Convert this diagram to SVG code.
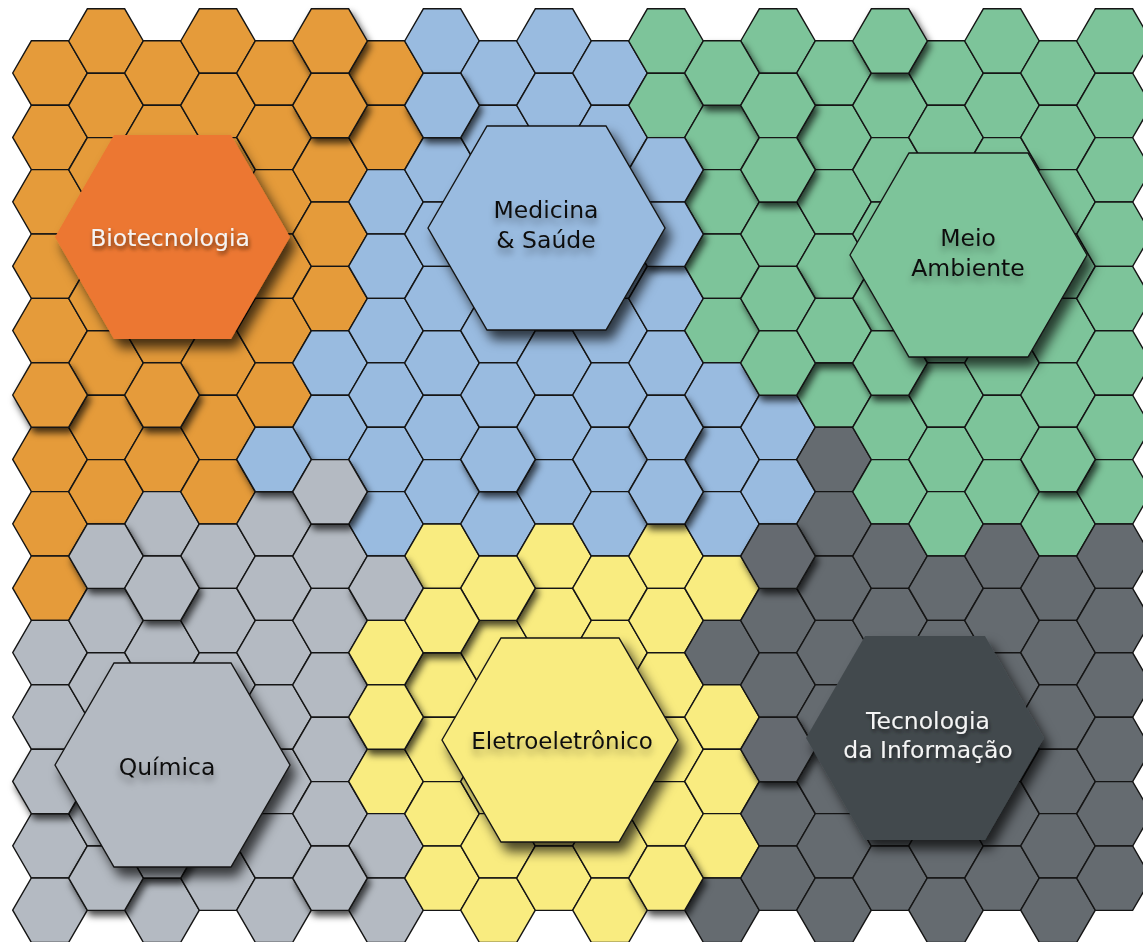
<svg xmlns="http://www.w3.org/2000/svg" xmlns:xlink="http://www.w3.org/1999/xlink" width="1143" height="942" viewBox="0 0 1143 942">
<style>
.o{fill:#E59B3A}.b{fill:#99BBE0}.g{fill:#7DC49A}.q{fill:#B4BAC2}.y{fill:#F9EC80}.d{fill:#656B70}
#h{stroke:#151515;stroke-width:1.4;stroke-linejoin:miter}
.big{stroke:#151515;stroke-width:1.4}
.lbl{font-family:"DejaVu Sans","Open Sans",sans-serif;font-size:23.5px;text-anchor:middle;fill:#111}
.wl{fill:#f4f4f4}
</style>
<defs>
<polygon id="h" points="-37.3,0 -18.65,-32.2 18.65,-32.2 37.3,0 18.65,32.2 -18.65,32.2"/>
<filter id="sh" x="-30%" y="-30%" width="170%" height="170%">
<feDropShadow dx="3" dy="5" stdDeviation="3.5" flood-color="#000" flood-opacity="0.7"/>
</filter>
<filter id="bsh" x="-20%" y="-20%" width="150%" height="150%">
<feDropShadow dx="6" dy="9" stdDeviation="6" flood-color="#000" flood-opacity="0.7"/>
</filter>
<filter id="tsh" x="-20%" y="-60%" width="140%" height="280%">
<feDropShadow dx="0" dy="6" stdDeviation="3.5" flood-color="#000" flood-opacity="0.35"/>
</filter>
<filter id="wsh" x="-20%" y="-60%" width="140%" height="280%">
<feDropShadow dx="1" dy="3" stdDeviation="2" flood-color="#000" flood-opacity="0.6"/>
</filter>
</defs>
<rect width="1143" height="942" fill="#ffffff"/>
<g id="grid">
<!-- col 0 -->
<use href="#h" x="50" y="73" class="o"/><use href="#h" x="50" y="137.4" class="o"/><use href="#h" x="50" y="201.8" class="o"/><use href="#h" x="50" y="266.2" class="o"/><use href="#h" x="50" y="330.6" class="o"/><use href="#h" x="50" y="459.4" class="o"/><use href="#h" x="50" y="523.8" class="o"/><use href="#h" x="50" y="588.2" class="o"/><use href="#h" x="50" y="652.6" class="q"/><use href="#h" x="50" y="717" class="q"/><use href="#h" x="50" y="845.8" class="q"/><use href="#h" x="50" y="910.2" class="q"/>
<!-- col 1 -->
<use href="#h" x="106" y="41" class="o"/><use href="#h" x="106" y="105.4" class="o"/><use href="#h" x="106" y="169.8" class="o"/><use href="#h" x="106" y="234.2" class="o"/><use href="#h" x="106" y="298.6" class="o"/><use href="#h" x="106" y="363" class="o"/><use href="#h" x="106" y="427.4" class="o"/><use href="#h" x="106" y="491.8" class="o"/><use href="#h" x="106" y="620.6" class="q"/><use href="#h" x="106" y="685" class="q"/><use href="#h" x="106" y="749.4" class="q"/><use href="#h" x="106" y="813.8" class="q"/>
<!-- col 2 -->
<use href="#h" x="162" y="73" class="o"/><use href="#h" x="162" y="137.4" class="o"/><use href="#h" x="162" y="201.8" class="o"/><use href="#h" x="162" y="266.2" class="o"/><use href="#h" x="162" y="330.6" class="o"/><use href="#h" x="162" y="459.4" class="o"/><use href="#h" x="162" y="523.8" class="q"/><use href="#h" x="162" y="652.6" class="q"/><use href="#h" x="162" y="717" class="q"/><use href="#h" x="162" y="781.4" class="q"/><use href="#h" x="162" y="910.2" class="q"/>
<!-- col 3 -->
<use href="#h" x="218" y="41" class="o"/><use href="#h" x="218" y="105.4" class="o"/><use href="#h" x="218" y="169.8" class="o"/><use href="#h" x="218" y="234.2" class="o"/><use href="#h" x="218" y="298.6" class="o"/><use href="#h" x="218" y="363" class="o"/><use href="#h" x="218" y="427.4" class="o"/><use href="#h" x="218" y="491.8" class="o"/><use href="#h" x="218" y="556.2" class="q"/><use href="#h" x="218" y="620.6" class="q"/><use href="#h" x="218" y="685" class="q"/><use href="#h" x="218" y="749.4" class="q"/><use href="#h" x="218" y="813.8" class="q"/><use href="#h" x="218" y="878.2" class="q"/>
<!-- col 4 -->
<use href="#h" x="274" y="73" class="o"/><use href="#h" x="274" y="137.4" class="o"/><use href="#h" x="274" y="201.8" class="o"/><use href="#h" x="274" y="266.2" class="o"/><use href="#h" x="274" y="330.6" class="o"/><use href="#h" x="274" y="395" class="o"/><use href="#h" x="274" y="523.8" class="q"/><use href="#h" x="274" y="588.2" class="q"/><use href="#h" x="274" y="652.6" class="q"/><use href="#h" x="274" y="717" class="q"/><use href="#h" x="274" y="781.4" class="q"/><use href="#h" x="274" y="845.8" class="q"/><use href="#h" x="274" y="910.2" class="q"/>
<!-- col 5 -->
<use href="#h" x="330" y="169.8" class="o"/><use href="#h" x="330" y="234.2" class="o"/><use href="#h" x="330" y="298.6" class="o"/><use href="#h" x="330" y="363" class="b"/><use href="#h" x="330" y="427.4" class="b"/><use href="#h" x="330" y="556.2" class="q"/><use href="#h" x="330" y="620.6" class="q"/><use href="#h" x="330" y="685" class="q"/><use href="#h" x="330" y="749.4" class="q"/><use href="#h" x="330" y="813.8" class="q"/>
<!-- col 6 -->
<use href="#h" x="386" y="73" class="o"/><use href="#h" x="386" y="137.4" class="o"/><use href="#h" x="386" y="201.8" class="b"/><use href="#h" x="386" y="266.2" class="b"/><use href="#h" x="386" y="330.6" class="b"/><use href="#h" x="386" y="395" class="b"/><use href="#h" x="386" y="459.4" class="b"/><use href="#h" x="386" y="523.8" class="b"/><use href="#h" x="386" y="781.4" class="y"/><use href="#h" x="386" y="845.8" class="q"/><use href="#h" x="386" y="910.2" class="q"/>
<!-- col 7 -->
<use href="#h" x="442" y="41" class="b"/><use href="#h" x="442" y="169.8" class="b"/><use href="#h" x="442" y="234.2" class="b"/><use href="#h" x="442" y="298.6" class="b"/><use href="#h" x="442" y="363" class="b"/><use href="#h" x="442" y="427.4" class="b"/><use href="#h" x="442" y="491.8" class="b"/><use href="#h" x="442" y="556.2" class="y"/><use href="#h" x="442" y="685" class="y"/><use href="#h" x="442" y="749.4" class="y"/><use href="#h" x="442" y="813.8" class="y"/><use href="#h" x="442" y="878.2" class="y"/>
<!-- col 8 -->
<use href="#h" x="498" y="73" class="b"/><use href="#h" x="498" y="137.4" class="b"/><use href="#h" x="498" y="201.8" class="b"/><use href="#h" x="498" y="266.2" class="b"/><use href="#h" x="498" y="330.6" class="b"/><use href="#h" x="498" y="395" class="b"/><use href="#h" x="498" y="523.8" class="b"/><use href="#h" x="498" y="652.6" class="y"/><use href="#h" x="498" y="717" class="y"/><use href="#h" x="498" y="781.4" class="y"/><use href="#h" x="498" y="845.8" class="y"/><use href="#h" x="498" y="910.2" class="y"/>
<!-- col 9 -->
<use href="#h" x="554" y="41" class="b"/><use href="#h" x="554" y="105.4" class="b"/><use href="#h" x="554" y="169.8" class="b"/><use href="#h" x="554" y="234.2" class="b"/><use href="#h" x="554" y="298.6" class="b"/><use href="#h" x="554" y="363" class="b"/><use href="#h" x="554" y="427.4" class="b"/><use href="#h" x="554" y="491.8" class="b"/><use href="#h" x="554" y="556.2" class="y"/><use href="#h" x="554" y="620.6" class="y"/><use href="#h" x="554" y="685" class="y"/><use href="#h" x="554" y="749.4" class="y"/><use href="#h" x="554" y="813.8" class="y"/><use href="#h" x="554" y="878.2" class="y"/>
<!-- col 10 -->
<use href="#h" x="610" y="73" class="b"/><use href="#h" x="610" y="137.4" class="b"/><use href="#h" x="610" y="201.8" class="b"/><use href="#h" x="610" y="266.2" class="b"/><use href="#h" x="610" y="330.6" class="b"/><use href="#h" x="610" y="395" class="b"/><use href="#h" x="610" y="459.4" class="b"/><use href="#h" x="610" y="523.8" class="b"/><use href="#h" x="610" y="588.2" class="y"/><use href="#h" x="610" y="652.6" class="y"/><use href="#h" x="610" y="717" class="y"/><use href="#h" x="610" y="781.4" class="y"/><use href="#h" x="610" y="845.8" class="y"/><use href="#h" x="610" y="910.2" class="y"/>
<!-- col 11 -->
<use href="#h" x="666" y="41" class="g"/><use href="#h" x="666" y="105.4" class="g"/><use href="#h" x="666" y="298.6" class="b"/><use href="#h" x="666" y="363" class="b"/><use href="#h" x="666" y="556.2" class="y"/><use href="#h" x="666" y="620.6" class="y"/><use href="#h" x="666" y="685" class="y"/><use href="#h" x="666" y="749.4" class="y"/><use href="#h" x="666" y="813.8" class="y"/>
<!-- col 12 -->
<use href="#h" x="722" y="137.4" class="g"/><use href="#h" x="722" y="201.8" class="g"/><use href="#h" x="722" y="266.2" class="g"/><use href="#h" x="722" y="330.6" class="g"/><use href="#h" x="722" y="395" class="b"/><use href="#h" x="722" y="459.4" class="b"/><use href="#h" x="722" y="523.8" class="b"/><use href="#h" x="722" y="588.2" class="y"/><use href="#h" x="722" y="652.6" class="d"/><use href="#h" x="722" y="717" class="y"/><use href="#h" x="722" y="781.4" class="y"/><use href="#h" x="722" y="845.8" class="y"/><use href="#h" x="722" y="910.2" class="d"/>
<!-- col 13 -->
<use href="#h" x="778" y="41" class="g"/><use href="#h" x="778" y="234.2" class="g"/><use href="#h" x="778" y="427.4" class="b"/><use href="#h" x="778" y="491.8" class="b"/><use href="#h" x="778" y="620.6" class="d"/><use href="#h" x="778" y="685" class="d"/><use href="#h" x="778" y="813.8" class="d"/><use href="#h" x="778" y="878.2" class="d"/>
<!-- col 14 -->
<use href="#h" x="834" y="73" class="g"/><use href="#h" x="834" y="137.4" class="g"/><use href="#h" x="834" y="201.8" class="g"/><use href="#h" x="834" y="266.2" class="g"/><use href="#h" x="834" y="395" class="g"/><use href="#h" x="834" y="459.4" class="d"/><use href="#h" x="834" y="523.8" class="d"/><use href="#h" x="834" y="588.2" class="d"/><use href="#h" x="834" y="652.6" class="d"/><use href="#h" x="834" y="717" class="d"/><use href="#h" x="834" y="781.4" class="d"/><use href="#h" x="834" y="845.8" class="d"/><use href="#h" x="834" y="910.2" class="d"/>
<!-- col 15 -->
<use href="#h" x="890" y="105.4" class="g"/><use href="#h" x="890" y="169.8" class="g"/><use href="#h" x="890" y="234.2" class="g"/><use href="#h" x="890" y="298.6" class="g"/><use href="#h" x="890" y="427.4" class="g"/><use href="#h" x="890" y="491.8" class="g"/><use href="#h" x="890" y="556.2" class="d"/><use href="#h" x="890" y="620.6" class="d"/><use href="#h" x="890" y="685" class="d"/><use href="#h" x="890" y="749.4" class="d"/><use href="#h" x="890" y="813.8" class="d"/><use href="#h" x="890" y="878.2" class="d"/>
<!-- col 16 -->
<use href="#h" x="946" y="73" class="g"/><use href="#h" x="946" y="137.4" class="g"/><use href="#h" x="946" y="201.8" class="g"/><use href="#h" x="946" y="266.2" class="g"/><use href="#h" x="946" y="330.6" class="g"/><use href="#h" x="946" y="395" class="g"/><use href="#h" x="946" y="459.4" class="g"/><use href="#h" x="946" y="523.8" class="g"/><use href="#h" x="946" y="588.2" class="d"/><use href="#h" x="946" y="652.6" class="d"/><use href="#h" x="946" y="717" class="d"/><use href="#h" x="946" y="781.4" class="d"/><use href="#h" x="946" y="845.8" class="d"/><use href="#h" x="946" y="910.2" class="d"/>
<!-- col 17 -->
<use href="#h" x="1002" y="41" class="g"/><use href="#h" x="1002" y="105.4" class="g"/><use href="#h" x="1002" y="169.8" class="g"/><use href="#h" x="1002" y="234.2" class="g"/><use href="#h" x="1002" y="298.6" class="g"/><use href="#h" x="1002" y="363" class="g"/><use href="#h" x="1002" y="427.4" class="g"/><use href="#h" x="1002" y="491.8" class="g"/><use href="#h" x="1002" y="556.2" class="d"/><use href="#h" x="1002" y="620.6" class="d"/><use href="#h" x="1002" y="685" class="d"/><use href="#h" x="1002" y="749.4" class="d"/><use href="#h" x="1002" y="813.8" class="d"/><use href="#h" x="1002" y="878.2" class="d"/>
<!-- col 18 -->
<use href="#h" x="1058" y="73" class="g"/><use href="#h" x="1058" y="137.4" class="g"/><use href="#h" x="1058" y="201.8" class="g"/><use href="#h" x="1058" y="266.2" class="g"/><use href="#h" x="1058" y="330.6" class="g"/><use href="#h" x="1058" y="395" class="g"/><use href="#h" x="1058" y="523.8" class="g"/><use href="#h" x="1058" y="588.2" class="d"/><use href="#h" x="1058" y="652.6" class="d"/><use href="#h" x="1058" y="717" class="d"/><use href="#h" x="1058" y="781.4" class="d"/><use href="#h" x="1058" y="845.8" class="d"/><use href="#h" x="1058" y="910.2" class="d"/>
<!-- col 19 -->
<use href="#h" x="1114" y="41" class="g"/><use href="#h" x="1114" y="105.4" class="g"/><use href="#h" x="1114" y="169.8" class="g"/><use href="#h" x="1114" y="234.2" class="g"/><use href="#h" x="1114" y="298.6" class="g"/><use href="#h" x="1114" y="363" class="g"/><use href="#h" x="1114" y="427.4" class="g"/><use href="#h" x="1114" y="491.8" class="g"/><use href="#h" x="1114" y="556.2" class="d"/><use href="#h" x="1114" y="620.6" class="d"/><use href="#h" x="1114" y="685" class="d"/><use href="#h" x="1114" y="749.4" class="d"/><use href="#h" x="1114" y="813.8" class="d"/><use href="#h" x="1114" y="878.2" class="d"/>
</g>
<g id="raised" filter="url(#sh)">
<use href="#h" x="50" y="395" class="o"/><use href="#h" x="162" y="395" class="o"/><use href="#h" x="106" y="556.2" class="q"/><use href="#h" x="162" y="588.2" class="q"/>
<use href="#h" x="50" y="781.4" class="q"/><use href="#h" x="162" y="845.8" class="q"/><use href="#h" x="106" y="878.2" class="q"/><use href="#h" x="330" y="878.2" class="q"/>
<use href="#h" x="330" y="41" class="o"/><use href="#h" x="330" y="105.4" class="o"/><use href="#h" x="274" y="459.4" class="b"/><use href="#h" x="330" y="491.8" class="q"/>
<use href="#h" x="442" y="105.4" class="b"/><use href="#h" x="498" y="459.4" class="b"/><use href="#h" x="386" y="588.2" class="q"/><use href="#h" x="386" y="652.6" class="y"/><use href="#h" x="386" y="717" class="y"/>
<use href="#h" x="498" y="588.2" class="y"/><use href="#h" x="442" y="620.6" class="y"/><use href="#h" x="666" y="878.2" class="y"/>
<use href="#h" x="666" y="169.8" class="b"/><use href="#h" x="666" y="234.2" class="b"/><use href="#h" x="666" y="427.4" class="b"/><use href="#h" x="666" y="491.8" class="b"/>
<use href="#h" x="722" y="73" class="g"/><use href="#h" x="778" y="105.4" class="g"/><use href="#h" x="778" y="169.8" class="g"/><use href="#h" x="778" y="298.6" class="g"/><use href="#h" x="778" y="363" class="g"/><use href="#h" x="834" y="330.6" class="g"/>
<use href="#h" x="890" y="41" class="g"/><use href="#h" x="890" y="363" class="g"/><use href="#h" x="1058" y="459.4" class="g"/>
<use href="#h" x="778" y="556.2" class="d"/><use href="#h" x="778" y="749.4" class="d"/>
</g>
<g id="biotecnologia" filter="url(#bsh)">
<polygon points="55,237 114,135 231,135 290,237 231,339 114,339" fill="#EC7731"/>
<text class="lbl wl" x="170" y="246" filter="url(#wsh)">Biotecnologia</text>
</g>
<g id="medicina-saude" filter="url(#bsh)">
<polygon class="big" points="428,228 487,126 606,126 665,228 606,330 487,330" fill="#99BBE0"/>
<text class="lbl" x="546" y="218" filter="url(#tsh)">Medicina</text>
<text class="lbl" x="546" y="248" filter="url(#tsh)">&amp; Saúde</text>
</g>
<g id="meio-ambiente" filter="url(#bsh)">
<polygon class="big" points="850,255 909,153 1028,153 1087,255 1028,357 909,357" fill="#7DC49A"/>
<text class="lbl" x="968" y="246" filter="url(#tsh)">Meio</text>
<text class="lbl" x="968" y="276" filter="url(#tsh)">Ambiente</text>
</g>
<g id="quimica" filter="url(#bsh)">
<polygon class="big" points="55,765 114,663 231,663 290,765 231,867 114,867" fill="#B4BAC2"/>
<text class="lbl" x="167" y="775" filter="url(#tsh)">Química</text>
</g>
<g id="eletroeletronico" filter="url(#bsh)">
<polygon class="big" points="442,740 501,638 619,638 678,740 619,842 501,842" fill="#F9EC80"/>
<text class="lbl" x="562" y="749" style="font-size:23px" filter="url(#tsh)">Eletroeletrônico</text>
</g>
<g id="tecnologia-informacao" filter="url(#bsh)">
<polygon points="806,738 865,636 985,636 1044,738 985,840 865,840" fill="#434A4E"/>
<text class="lbl wl" x="928" y="729" filter="url(#wsh)">Tecnologia</text>
<text class="lbl wl" x="928" y="758" filter="url(#wsh)">da Informação</text>
</g>
</svg>
